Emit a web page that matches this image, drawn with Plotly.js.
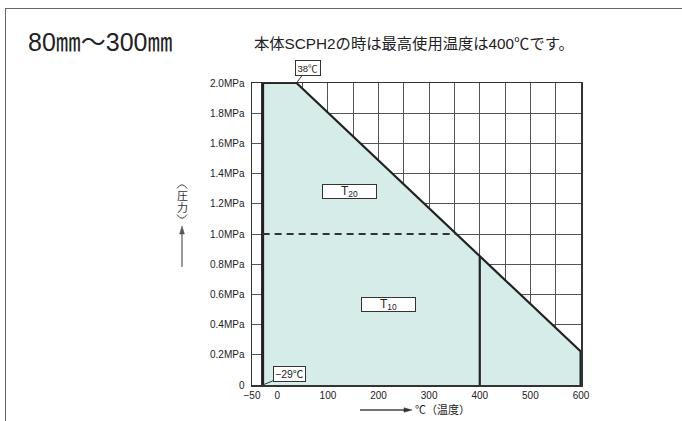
<!DOCTYPE html>
<html>
<head>
<meta charset="utf-8">
<script src="https://cdn.plot.ly/plotly-3.0.1.min.js"></script>
<style>
  html, body { margin: 0; padding: 0; background: #fff; }
  #wrap { position: relative; width: 682px; height: 421px; }
  #chart { width: 682px; height: 421px; }
  #frame { position: absolute; left: 5px; top: 8px; right: 0; bottom: 0;
           border-top: 1.5px solid #666; border-left: 1.5px solid #666; pointer-events: none; }
</style>
</head>
<body>
<div id="wrap">
  <div id="chart"></div>
  <div id="frame"></div>
</div>
<script>
// ---- data ----
const xTickVals = [-50, 0, 100, 200, 300, 400, 500, 600];
const xTickText = ['−50', '0', '100', '200', '300', '400', '500', '600'];
const yTickVals = [0, 0.2, 0.4, 0.6, 0.8, 1.0, 1.2, 1.4, 1.6, 1.8, 2.0];
const yTickText = ['0', '0.2MPa', '0.4MPa', '0.6MPa', '0.8MPa', '1.0MPa', '1.2MPa', '1.4MPa', '1.6MPa', '1.8MPa', '2.0MPa'];

// boundary of the usable range (temperature ℃, pressure MPa)
const boundaryTemp = [-29, -29, 38, 600, 600];
const boundaryPres = [0, 2.0, 2.0, 0.22, 0];
// T20 / T10 split (dashed line at 1.0 MPa), and 400℃ limit
const dashedTemp = [-29, 354];
const dashedPres = [1.0, 1.0];
const limitTemp = [400, 400];
const limitPres = [0, 0.85];

// ---- geometry helpers (pixel -> paper) ----
const L = 252, R = 581, T = 83, B = 385;
const px = v => (v - L) / (R - L);
const py = v => (B - v) / (B - T);
const pt = (x, y) => px(x) + ',' + py(y);

const FONT = 'Liberation Sans, Arial, Noto Sans CJK JP, sans-serif';
const CJK = 'Liberation Sans, Noto Sans CJK JP, sans-serif';
const INK = '#222';

const traces = [
  { x: boundaryTemp, y: boundaryPres, type: 'scatter', mode: 'lines',
    fill: 'toself', fillcolor: '#d6ece8', line: { width: 0 }, hoverinfo: 'skip' },
  { x: boundaryTemp.slice(0, 4), y: boundaryPres.slice(0, 4), type: 'scatter', mode: 'lines',
    line: { color: INK, width: 2.2 }, hoverinfo: 'skip' },
  { x: boundaryTemp.slice(0, 2), y: boundaryPres.slice(0, 2), type: 'scatter', mode: 'lines',
    line: { color: INK, width: 3 }, hoverinfo: 'skip' },
  { x: boundaryTemp.slice(3), y: boundaryPres.slice(3), type: 'scatter', mode: 'lines',
    line: { color: INK, width: 3 }, hoverinfo: 'skip' },
  { x: dashedTemp, y: dashedPres, type: 'scatter', mode: 'lines',
    line: { color: '#333', width: 2, dash: '7px,5px' }, hoverinfo: 'skip' },
  { x: limitTemp, y: limitPres, type: 'scatter', mode: 'lines',
    line: { color: INK, width: 2.2 }, hoverinfo: 'skip' }
];

const boxFont = { family: FONT, size: 12, color: INK };

const shapes = [
  // y-axis title arrow
  { type: 'line', xref: 'paper', yref: 'paper', x0: px(182), y0: py(267), x1: px(182), y1: py(232),
    line: { color: '#666', width: 1.3 } },
  { type: 'path', xref: 'paper', yref: 'paper',
    path: 'M' + pt(182, 226) + ' L' + pt(179.6, 234) + ' L' + pt(184.4, 234) + ' Z',
    fillcolor: '#555', line: { color: '#555', width: 0.5 } },
  // x-axis title arrow
  { type: 'line', xref: 'paper', yref: 'paper', x0: px(360), y0: py(410), x1: px(406), y1: py(410),
    line: { color: '#444', width: 1.3 } },
  { type: 'path', xref: 'paper', yref: 'paper',
    path: 'M' + pt(412, 410) + ' L' + pt(404, 407.8) + ' L' + pt(404, 412.2) + ' Z',
    fillcolor: '#333', line: { color: '#333', width: 0.5 } },
  // vertical parentheses around 圧力
  { type: 'path', xref: 'paper', yref: 'paper',
    path: 'M' + pt(177, 188.5) + ' Q' + pt(182, 181) + ' ' + pt(187, 188.5),
    line: { color: '#444', width: 1 } },
  { type: 'path', xref: 'paper', yref: 'paper',
    path: 'M' + pt(177, 214.5) + ' Q' + pt(182, 222) + ' ' + pt(187, 214.5),
    line: { color: '#444', width: 1 } }
];

const layout = {
  width: 682, height: 421,
  margin: { l: L, r: 682 - R, t: T, b: 421 - B, pad: 0 },
  paper_bgcolor: '#fff', plot_bgcolor: '#fff',
  showlegend: false,
  font: { family: FONT, size: 10, color: INK },
  xaxis: {
    range: [-50, 600], tickvals: xTickVals, ticktext: xTickText,
    showgrid: true, gridcolor: '#555', gridwidth: 1,
    minor: { dtick: 50, tick0: 0, showgrid: true, gridcolor: '#555', gridwidth: 1 },
    zeroline: false, showline: true, linecolor: '#333', linewidth: 1.5, mirror: true,
    ticks: '', tickfont: { family: FONT, size: 10, color: INK }, fixedrange: true
  },
  yaxis: {
    range: [0, 2.0], tickvals: yTickVals, ticktext: yTickText,
    showgrid: true, gridcolor: '#555', gridwidth: 1,
    zeroline: false, showline: true, linecolor: '#333', linewidth: 1.5, mirror: true,
    ticks: '', ticklabelstandoff: 4,
    tickfont: { family: FONT, size: 10, color: INK }, fixedrange: true
  },
  shapes: shapes,
  annotations: [
    { xref: 'paper', yref: 'paper', x: px(26), y: py(42), xanchor: 'left', yanchor: 'middle',
      text: '80㎜〜300㎜', showarrow: false, font: { family: CJK, size: 25, color: INK } },
    { xref: 'paper', yref: 'paper', x: px(252), y: py(44), xanchor: 'left', yanchor: 'middle',
      text: '本体SCPH2の時は最高使用温度は400℃です。', showarrow: false,
      font: { family: CJK, size: 15.3, color: INK } },
    { xref: 'paper', yref: 'paper', x: px(182), y: py(196), xanchor: 'center', yanchor: 'middle',
      text: '圧', showarrow: false, font: { family: CJK, size: 11, color: '#333' } },
    { xref: 'paper', yref: 'paper', x: px(182), y: py(207.5), xanchor: 'center', yanchor: 'middle',
      text: '力', showarrow: false, font: { family: CJK, size: 11, color: '#333' } },
    { xref: 'paper', yref: 'paper', x: px(413), y: py(410), xanchor: 'left', yanchor: 'middle',
      text: '℃（温度）', showarrow: false, font: { family: CJK, size: 11, color: INK } },
    { xref: 'paper', yref: 'paper', x: px(322), y: py(191.5), text: 'T<sub>20</sub>', showarrow: false,
      width: 53, height: 13, bgcolor: '#fff', bordercolor: '#333', borderwidth: 1, borderpad: 0,
      font: boxFont },
    { xref: 'paper', yref: 'paper', x: px(388), y: py(311.5), text: 'T<sub>10</sub>', showarrow: false,
      width: 53, height: 13, bgcolor: '#fff', bordercolor: '#333', borderwidth: 1, borderpad: 0,
      font: boxFont },
    { xref: 'x', yref: 'y', x: 38, y: 2.0, text: '38℃', showarrow: true, arrowhead: 0,
      arrowwidth: 1, arrowcolor: '#333', ax: 11, ay: -15, standoff: 0,
      bgcolor: '#fff', bordercolor: '#333', borderwidth: 1, borderpad: 1.5,
      font: { family: CJK, size: 9.5, color: INK } },
    { xref: 'x', yref: 'y', x: -29, y: 0, text: '−29℃', showarrow: true, arrowhead: 0,
      arrowwidth: 1, arrowcolor: '#333', ax: 27, ay: -11, standoff: 0,
      bgcolor: '#fff', bordercolor: '#333', borderwidth: 1, borderpad: 1,
      font: { family: CJK, size: 10.5, color: INK } }
  ]
};

Plotly.newPlot('chart', traces, layout, { staticPlot: true, displayModeBar: false });
</script>
</body>
</html>
